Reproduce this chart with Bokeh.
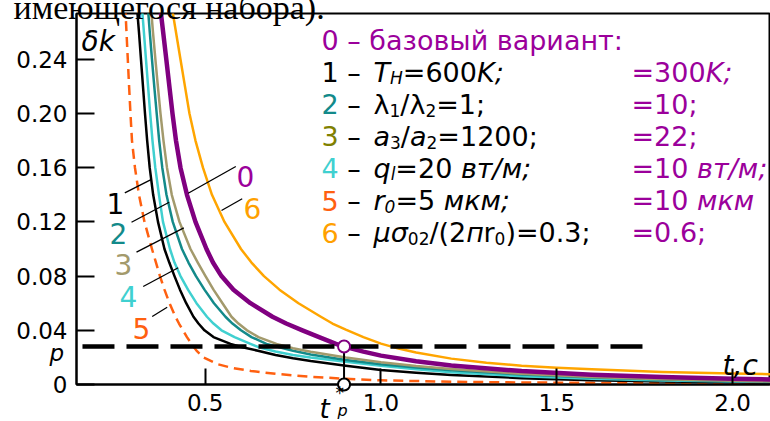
from bokeh.plotting import figure
from bokeh.models import Range1d, FixedTicker, Label
from bokeh.core.properties import value
from bokeh.embed import file_html
from bokeh.resources import INLINE

# ---------------- data ----------------
# curve 0 - base variant
x0 = [0.3714, 0.3805, 0.3894, 0.3982, 0.4070, 0.4170, 0.4298, 0.4482, 0.4724, 0.5037, 0.5222, 0.5464, 0.5805, 0.6288,
      0.6914, 0.7304, 0.7765, 0.8240, 0.8720, 0.8950, 0.95, 1.0, 1.1, 1.2, 1.4, 1.6, 1.8, 2.0, 2.11]
y0 = [0.28, 0.26, 0.24, 0.22, 0.20, 0.18, 0.16, 0.14, 0.12, 0.10, 0.09, 0.08, 0.07, 0.06,
      0.05, 0.045, 0.04, 0.035, 0.030, 0.028, 0.0243, 0.0213, 0.0171, 0.0140, 0.0099, 0.0072, 0.0055, 0.0042, 0.0037]
# curve 1 - T_H = 600K
x1 = [0.3055, 0.3117, 0.3174, 0.3231, 0.3288, 0.3350, 0.3422, 0.3521, 0.3658, 0.3842, 0.3979, 0.4127, 0.4283, 0.4460,
      0.4667, 0.4809, 0.4980, 0.5236, 0.5720, 0.60, 0.65, 0.70, 0.75, 0.80, 0.90, 1.0, 1.1, 1.2, 1.4, 1.6, 1.8, 2.0, 2.11]
y1 = [0.28, 0.26, 0.24, 0.22, 0.20, 0.18, 0.16, 0.14, 0.12, 0.10, 0.09, 0.08, 0.07, 0.06,
      0.05, 0.045, 0.04, 0.035, 0.030, 0.0279, 0.0249, 0.0218, 0.0193, 0.0173, 0.0139, 0.0107, 0.0087, 0.0071, 0.0047,
      0.0032, 0.0023, 0.0016, 0.0013]
# curve 2 - lambda1/lambda2 = 1
x2 = [0.3365, 0.3424, 0.3487, 0.3552, 0.3621, 0.3692, 0.3780, 0.3899, 0.4078, 0.4340, 0.4525, 0.4738, 0.4980, 0.5250,
      0.5577, 0.5776, 0.6018, 0.6317, 0.6743, 0.70, 0.75, 0.80, 0.90, 1.0, 1.1, 1.2, 1.4, 1.6, 1.8, 2.0, 2.11]
y2 = [0.28, 0.26, 0.24, 0.22, 0.20, 0.18, 0.16, 0.14, 0.12, 0.10, 0.09, 0.08, 0.07, 0.06,
      0.05, 0.045, 0.04, 0.035, 0.030, 0.0282, 0.0249, 0.0221, 0.0181, 0.0150, 0.0126, 0.0106, 0.0074, 0.0052, 0.0036,
      0.0026, 0.0021]
# curve 3 - a3/a2 = 1200
x3 = [0.3453, 0.3515, 0.3584, 0.3655, 0.3729, 0.3814, 0.3914, 0.4050, 0.4269, 0.4582, 0.4790, 0.5009, 0.5236, 0.5492,
      0.5748, 0.5947, 0.6189, 0.6516, 0.7028, 0.75, 0.80, 0.90, 1.0, 1.1, 1.2, 1.4, 1.6, 1.8, 2.0, 2.11]
y3 = [0.28, 0.26, 0.24, 0.22, 0.20, 0.18, 0.16, 0.14, 0.12, 0.10, 0.09, 0.08, 0.07, 0.06,
      0.05, 0.045, 0.04, 0.035, 0.030, 0.0268, 0.0242, 0.0199, 0.0164, 0.0136, 0.0114, 0.0079, 0.0055, 0.0038, 0.0027,
      0.0022]
# curve 4 - q_l = 20 W/m
x4 = [0.3197, 0.3257, 0.3316, 0.3376, 0.3436, 0.3501, 0.3581, 0.3686, 0.3800, 0.3999, 0.4127, 0.4298, 0.4511, 0.4753,
      0.5051, 0.5236, 0.5464, 0.5836, 0.6288, 0.65, 0.70, 0.75, 0.80, 0.90, 1.0, 1.1, 1.2, 1.4, 1.6, 1.8, 2.0, 2.11]
y4 = [0.28, 0.26, 0.24, 0.22, 0.20, 0.18, 0.16, 0.14, 0.12, 0.10, 0.09, 0.08, 0.07, 0.06,
      0.05, 0.045, 0.04, 0.035, 0.030, 0.0277, 0.0243, 0.0218, 0.0199, 0.0168, 0.0138, 0.0112, 0.0091, 0.0061, 0.0042,
      0.0030, 0.0022, 0.0018]
# curve 5 - r0 = 5 mkm
x5 = [0.2725, 0.2762, 0.2799, 0.2836, 0.2875, 0.2918, 0.3003, 0.3117, 0.3274, 0.3487, 0.3601, 0.3714, 0.3842, 0.3985,
      0.4155, 0.4255, 0.4369, 0.4482, 0.4610, 0.4753, 0.4952, 0.5350, 0.58, 0.63, 0.70, 0.80, 0.90, 1.0, 1.2, 1.4, 1.6,
      1.8, 2.11]
y5 = [0.28, 0.26, 0.24, 0.22, 0.20, 0.18, 0.16, 0.14, 0.12, 0.10, 0.09, 0.08, 0.07, 0.06,
      0.05, 0.045, 0.04, 0.035, 0.030, 0.025, 0.020, 0.015, 0.012, 0.010, 0.0079, 0.0057, 0.0042, 0.0031, 0.0020, 0.0015,
      0.0012, 0.0010, 0.0007]
# curve 6 - mu*sigma02/(2 pi r0) = 0.3
x6 = [0.4042, 0.4170, 0.4297, 0.4425, 0.4553, 0.4724, 0.4937, 0.5193, 0.5549, 0.6018, 0.6317, 0.6672, 0.7113, 0.7654,
      0.8290, 0.8620, 0.90, 0.95, 1.0, 1.05, 1.1, 1.2, 1.3, 1.4, 1.5, 1.6, 1.8, 2.0, 2.11]
y6 = [0.28, 0.26, 0.24, 0.22, 0.20, 0.18, 0.16, 0.14, 0.12, 0.10, 0.09, 0.08, 0.07, 0.06,
      0.05, 0.045, 0.0405, 0.0350, 0.0302, 0.0265, 0.0236, 0.0191, 0.0161, 0.0139, 0.0123, 0.0112, 0.0093, 0.0081, 0.0076]

p_level = 0.028          # threshold p
t_star = 0.895           # t*_p
threshold_x = [0.151, 1.746]

x_ticks = [0.5, 1.0, 1.5, 2.0]
x_tick_labels = ["0.5", "1.0", "1.5", "2.0"]
y_ticks = [0.0, 0.04, 0.08, 0.12, 0.16, 0.20, 0.24]
y_tick_labels = ["0", "0.04", "0.08", "0.12", "0.16", "0.20", "0.24"]

# ---------------- layout ----------------
W, H = 770, 421
FL, FR, FT, FB = 76, 770, 13, 384
XMIN, XMAX, YMIN, YMAX = 0.134, 2.108, 0.0, 0.2738


def dx(px):
    return XMIN + (px - FL) / (FR - FL) * (XMAX - XMIN)


def dy(py):
    return YMIN + (FB - py) / (FB - FT) * (YMAX - YMIN)


PURPLE = "#800080"
PURPLE_T = "#9b009b"
TEAL = "#138a8a"
OLIVE = "#a39a6c"
OLIVE_T = "#808000"
CYAN = "#40d0d0"
RED = "#ff6010"
ORANGE = "#ffa000"
FONT = "DejaVu Sans"
NB = "\u00a0"

p = figure(width=W, height=H, x_range=Range1d(XMIN, XMAX), y_range=Range1d(YMIN, YMAX),
           output_backend="svg", toolbar_location=None,
           min_border_left=FL, min_border_right=W - FR, min_border_top=FT, min_border_bottom=H - FB)
p.grid.visible = False
p.outline_line_color = "black"
p.outline_line_width = 2
p.background_fill_color = "white"
p.border_fill_color = "white"

for ax, ticks, labels, tin in ((p.xaxis, x_ticks, x_tick_labels, 16), (p.yaxis, y_ticks, y_tick_labels, 18)):
    ax.ticker = FixedTicker(ticks=ticks)
    ax.major_label_overrides = {t: l for t, l in zip(ticks, labels)}
    ax.major_tick_in = tin
    ax.major_tick_out = 0
    ax.minor_tick_line_color = None
    ax.major_tick_line_width = 2
    ax.major_tick_line_color = "black"
    ax.axis_line_width = 2
    ax.axis_line_color = "black"
    ax.major_label_text_font = FONT
    ax.major_label_text_font_size = "23px"
    ax.major_label_text_color = "black"
    ax.major_label_standoff = 9

# curves
kw = dict(line_join="round")
p.line(x6, y6, line_color="#ffa500", line_width=2.5, **kw)
p.line(x5, y5, line_color=RED, line_width=2.5, line_dash="10 6", **kw)
p.line(x1, y1, line_color="black", line_width=2.5, **kw)
p.line(x4, y4, line_color=CYAN, line_width=2.5, **kw)
p.line(x2, y2, line_color=TEAL, line_width=2.5, **kw)
p.line(x3, y3, line_color=OLIVE, line_width=2.5, **kw)
p.line(x0, y0, line_color=PURPLE, line_width=4.5, **kw)

# threshold line and t*_p
p.line(threshold_x, [p_level, p_level], line_color="black", line_width=4.5, line_dash="32 12")
p.segment(x0=[t_star], y0=[0], x1=[t_star], y1=[p_level], line_color="black", line_width=2)
p.scatter([t_star], [p_level], size=12, fill_color="white", line_color=PURPLE, line_width=2)
p.scatter([t_star], [0], size=12, fill_color="white", line_color="black", line_width=2, level="overlay")

# leader lines for curve numbers (pixel positions of the annotation layout)
leaders = [(124.3, 192.3, 150, 179.3), (131, 221.7, 168.7, 201.7), (136, 251.7, 183.3, 227.3),
           (142.7, 286, 177.7, 267.3), (151.7, 316, 166.7, 306.7), (187.7, 192.7, 235.3, 166),
           (221, 210, 241.7, 198.3)]
p.segment(x0=[dx(a[0]) for a in leaders], y0=[dy(a[1]) for a in leaders],
          x1=[dx(a[2]) for a in leaders], y1=[dy(a[3]) for a in leaders],
          line_color="black", line_width=1.3)


def label(px, py, text, color="black", size=23, italic=False, font=FONT):
    p.add_layout(Label(x=dx(px), y=dy(py), text=text, text_color=color,
                       text_font=font, text_font_size=f"{size}px",
                       text_font_style="italic" if italic else "normal",
                       text_align="left", text_baseline="alphabetic"))


def outer_text(px, py, text, size=23, italic=False, font=FONT):
    # texts outside the frame: drawn as an overlay-level text glyph so that they are not clipped
    p.text(x=[dx(px)], y=[dy(py)], text=[text], text_color="black", text_font=value(font),
           text_font_size=value(f"{size}px"), text_font_style="italic" if italic else "normal",
           text_align="left", text_baseline="alphabetic", level="overlay")


# curve number labels
for px, py, t, c in ((106, 203, "1", "black"), (109, 233, "2", TEAL), (114, 264, "3", OLIVE),
                     (119, 296, "4", CYAN), (132, 328, "5", RED), (236, 176, "0", PURPLE_T),
                     (243, 208, "6", ORANGE)):
    label(px, py, t, c, size=28)

# axis texts
label(81, 41, "δk", size=28, italic=True)
label(722, 365, "t,c", size=28, italic=True)
outer_text(49, 352, "p", size=23, italic=True)
outer_text(319, 408, "t", size=26, italic=True)
outer_text(335, 392, "*", size=17)
outer_text(337, 410, "p", size=16, italic=True)
outer_text(13, 7, "имеющегося набора).", size=34, font="Liberation Serif")

# legend
WID = {' ': 0.318, NB: 0.318, '=': 0.838, ';': 0.337, ':': 0.337, '/': 0.337, '(': 0.39, ')': 0.39, '.': 0.318,
       '–': 0.5, 'T': 0.611, 'K': 0.656, 'H': 0.752, 'a': 0.613, 'q': 0.635, 'l': 0.278, 'r': 0.411,
       'λ': 0.592, 'μ': 0.636, 'σ': 0.635, 'в': 0.59, 'т': 0.52, 'м': 0.69, 'к': 0.59, 'п': 0.64}
for d in "0123456789":
    WID[d] = 0.636
LEG, SUB = 27, 17
FORMULA_X = 373


def row(x, base, frags):
    for text, color, italic, sub in frags:
        size = SUB if sub else LEG
        label(x, base + (6 if sub else 0), text, color, size=size, italic=italic)
        x += sum(WID.get(ch, 0.6) for ch in text) * size


def numbered(base, num, color, frags):
    label(321, base, num, color, size=LEG)
    label(321 + 0.636 * LEG, base, NB + "–", "black", size=LEG)
    row(FORMULA_X, base, frags)


B = "black"
P = PURPLE_T
bases = [39.5 + 32.1 * i for i in range(7)]
row(321, bases[0], [("0" + NB + "–" + NB + "базовый вариант:", P, False, False)])
numbered(bases[1], "1", B, [("T", B, True, False), ("H", B, True, True), ("=600", B, False, False), ("K;", B, True, False)])
numbered(bases[2], "2", TEAL, [("λ", B, False, False), ("1", B, False, True), ("/λ", B, False, False), ("2", B, False, True),
                               ("=1;", B, False, False)])
numbered(bases[3], "3", OLIVE_T, [("a", B, True, False), ("3", B, False, True), ("/", B, False, False), ("a", B, True, False),
                                  ("2", B, False, True), ("=1200;", B, False, False)])
numbered(bases[4], "4", CYAN, [("q", B, True, False), ("l", B, True, True), ("=20", B, False, False),
                               (NB + "вт/м;", B, True, False)])
numbered(bases[5], "5", RED, [("r", B, True, False), ("0", B, True, True), ("=5", B, False, False),
                              (NB + "мкм;", B, True, False)])
numbered(bases[6], "6", ORANGE, [("μσ", B, True, False), ("02", B, False, True), ("/(2", B, False, False),
                                 ("п", B, True, False), ("r", B, False, False), ("0", B, False, True),
                                 (")=0.3;", B, False, False)])
RX = 631
row(RX, bases[1], [("=300", P, False, False), ("K;", P, True, False)])
row(RX, bases[2], [("=10;", P, False, False)])
row(RX, bases[3], [("=22;", P, False, False)])
row(RX, bases[4], [("=10", P, False, False), (NB + "вт/м;", P, True, False)])
row(RX, bases[5], [("=10", P, False, False), (NB + "мкм", P, True, False)])
row(RX, bases[6], [("=0.6;", P, False, False)])

open("out.html", "w").write(file_html(p, INLINE))
